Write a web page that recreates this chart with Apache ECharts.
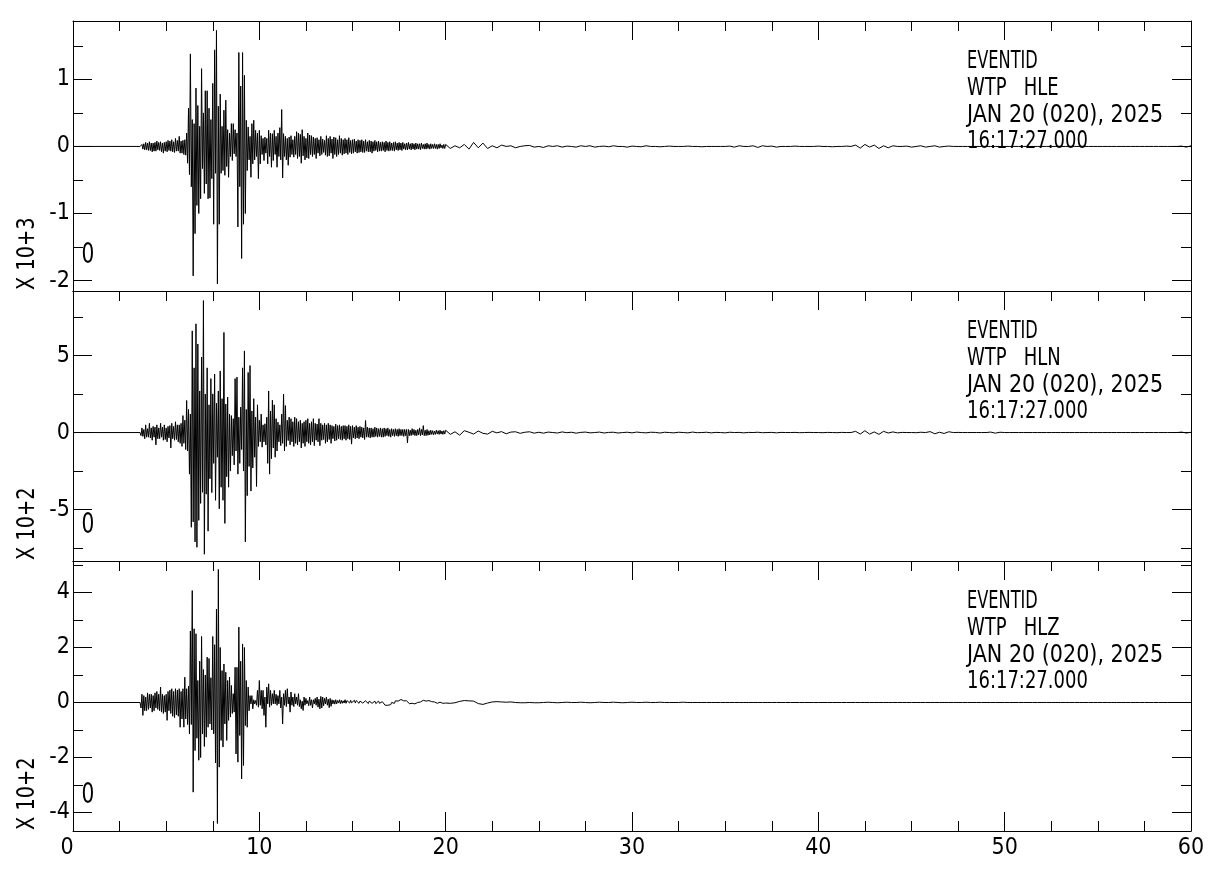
<!DOCTYPE html>
<html><head><meta charset="utf-8">
<script src="https://cdn.jsdelivr.net/npm/echarts@6/dist/echarts.min.js"></script>
<style>html,body{margin:0;padding:0;background:#fff}#c{width:1218px;height:883px}</style>
</head><body><div id="c"></div>
<script>
// ---------- data ----------
const TIME_MIN = 0, TIME_MAX = 60, TIME_STEP = 10;
const EVENT_NAME = 'EVENTID';
const STATION = 'WTP';
const CHANNELS = ['HLE', 'HLN', 'HLZ'];
const DATE_TEXT = 'JAN 20 (020), 2025';
const TIME_TEXT = '16:17:27.000';
const SCALE_TEXT = ['X 10+3', 'X 10+2', 'X 10+2'];
const ORIGIN_TEXT = '0';
const Y_RANGES = [[-2.155, 1.87], [-8.34, 9.19], [-4.673, 5.145]];
const Y_STEPS = [1, 5, 2];

// sample blocks: dense block from DENSE_START every DT_DENSE s (to 19.95 s),
// tail block from TAIL_START every DT_TAIL s (to 60 s)
const DENSE_START = 3.6, DT_DENSE = 0.05;
const TAIL_START = 20, DT_TAIL = 0.25;

const hleDense = [
  0, -0.02, 0.03, -0.04, 0.04, -0.05, 0.06, -0.05, 0.05, -0.06,
  0.07, -0.06, 0.05, -0.08, 0.05, -0.07, 0.06, -0.07, 0.08, -0.05,
  0.06, -0.06, 0.07, -0.08, 0.05, -0.1, 0.06, -0.07, 0.07, -0.08,
  0.09, -0.06, 0.08, -0.07, 0.1, -0.08, 0.07, -0.09, 0.12, -0.07,
  0.09, -0.07, 0.15, -0.1, 0.08, -0.1, 0.09, -0.12, 0.1, -0.13,
  0.2, -0.25, 0.57, -0.42, 1.38, -0.6, 0.4, -1.93, 0.34, -1.3,
  0.87, -0.88, 0.61, -1.0, 0.3, -0.78, 1.16, -0.33, 0.5, -0.7,
  0.83, -0.56, 0.83, -0.78, 0.57, -0.77, 0.4, -0.48, 0.94, -1.16,
  1.44, -0.4, 1.73, -2.05, 0.6, -1.16, 0.78, -0.4, 0.3, -0.36,
  0.54, -0.43, 0.69, -0.3, 0.25, -0.46, 0.2, -0.15, 0.34, -0.21,
  0.34, -0.11, 0.25, -0.15, 0.2, -1.2, 1.4, -0.6, 0.9, -1.67,
  1.4, -1.16, 1.06, -1.0, 0.39, -0.36, 0.29, -0.2, 0.15, -0.46,
  0.34, -0.26, 0.39, -0.2, 0.24, -0.15, 0.2, -0.48, 0.24, -0.26,
  0.16, -0.12, 0.12, -0.21, 0.14, -0.1, 0.12, -0.26, 0.24, -0.15,
  0.2, -0.31, 0.19, -0.21, 0.24, -0.12, 0.15, -0.31, 0.2, -0.15,
  0.28, -0.2, 0.55, -0.47, 0.19, -0.15, 0.15, -0.2, 0.12, -0.28,
  0.14, -0.16, 0.16, -0.12, 0.1, -0.16, 0.15, -0.12, 0.22, -0.18,
  0.2, -0.15, 0.18, -0.25, 0.25, -0.14, 0.15, -0.2, 0.12, -0.17,
  0.2, -0.18, 0.17, -0.12, 0.16, -0.15, 0.14, -0.12, 0.12, -0.18,
  0.13, -0.1, 0.1, -0.14, 0.15, -0.12, 0.11, -0.09, 0.09, -0.13,
  0.16, -0.15, 0.12, -0.14, 0.15, -0.1, 0.11, -0.18, 0.14, -0.12,
  0.13, -0.15, 0.1, -0.12, 0.16, -0.1, 0.12, -0.13, 0.1, -0.11,
  0.12, -0.1, 0.1, -0.12, 0.13, -0.09, 0.09, -0.11, 0.1, -0.1,
  0.11, -0.08, 0.08, -0.1, 0.1, -0.09, 0.09, -0.08, 0.1, -0.09,
  0.08, -0.09, 0.1, -0.07, 0.07, -0.08, 0.09, -0.08, 0.08, -0.1,
  0.07, -0.07, 0.09, -0.06, 0.07, -0.08, 0.08, -0.07, 0.06, -0.07,
  0.07, -0.06, 0.06, -0.08, 0.08, -0.06, 0.06, -0.07, 0.07, -0.06,
  0.05, -0.06, 0.06, -0.07, 0.07, -0.05, 0.05, -0.06, 0.06, -0.05,
  0.05, -0.06, 0.06, -0.04, 0.04, -0.05, 0.05, -0.05, 0.06, -0.04,
  0.04, -0.05, 0.05, -0.04, 0.04, -0.05, 0.05, -0.04, 0.04, -0.04,
  0.04, -0.05, 0.05, -0.03, 0.03, -0.04, 0.04, -0.04, 0.05, -0.03,
  0.03, -0.04, 0.04, -0.03, 0.03, -0.03, 0.04, -0.03, 0.03, -0.04,
  0.03, -0.03, 0.04, -0.02, 0.02, -0.03, 0.03, -0.03
];
const hleTail = [
  0.03, -0.03, 0.01, -0.02, 0.03, -0.04, 0.06, -0.02, 0.05, -0.03,
  0.01, -0.02, 0.02, 0, 0.01, -0.02, 0, 0.01, 0.015, -0.01,
  0, -0.015, 0.01, 0, 0.01, -0.01, 0.005, 0, -0.01, 0.01,
  0, 0.01, -0.01, 0, 0.005, -0.005, 0.01, 0, 0, -0.01,
  0.005, 0, -0.005, 0.01, 0, 0, -0.005, 0, 0.005, 0,
  0, 0, 0.005, 0, 0, -0.005, 0, 0, 0, 0,
  0, 0.005, -0.01, 0.01, 0, 0, 0.01, -0.015, 0.01, 0,
  0.005, -0.01, 0, 0, 0, 0.005, 0, 0, 0, 0,
  0.005, 0, 0, -0.005, 0, 0, 0.005, 0, 0.02, -0.025,
  0.03, -0.01, 0.02, -0.03, 0.01, -0.02, 0.01, 0, 0, 0.005,
  -0.01, 0, 0.01, -0.01, 0, 0.01, -0.01, 0, 0.005, 0,
  0, 0, 0, 0, 0, 0, 0, 0, 0, 0,
  0, 0, 0, 0, 0, 0, 0, 0, 0, 0,
  0, 0, 0, 0, 0, 0, 0, 0, 0, 0,
  0, 0, 0, 0, 0, 0, 0, 0, 0, 0,
  0, 0, 0, 0, 0, 0, 0, 0, 0.005, -0.01,
  0.01
];

const hlnDense = [
  0, -0.2, 0.3, -0.25, 0.2, -0.4, 0.5, -0.3, 0.25, -0.3,
  0.6, -0.35, 0.3, -0.5, 0.4, -0.3, 0.35, -0.8, 0.5, -0.4,
  0.3, -0.4, 0.6, -0.3, 0.35, -0.5, 0.5, -0.45, 0.3, -0.6,
  0.4, -0.35, 0.45, -1.0, 0.6, -0.4, 0.4, -0.5, 0.7, -0.45,
  0.5, -0.6, 0.5, -0.7, 0.6, -0.9, 1.1, -0.7, 0.8, -1.1,
  2.08, -1.2, 1.5, -2.7, 1.2, -6.15, 6.6, -5.8, 4.2, -7.1,
  7.06, -7.45, 5.75, -5.7, 2.7, -4.6, 4.9, -3.88, 8.57, -7.9,
  2.5, -4.0, 4.2, -6.4, 1.8, -3.0, 3.5, -3.9, 2.51, -2.0,
  3.8, -4.4, 1.9, -1.6, 2.7, -4.95, 4.0, -3.55, 2.2, -4.4,
  6.5, -5.9, 1.85, -2.87, 2.3, -3.55, 1.2, -2.5, 1.1, -1.5,
  0.9, -2.1, 3.5, -1.2, 3.6, -2.7, 1.0, -2.0, 1.65, -1.1,
  4.2, -2.5, 5.3, -7.1, 1.5, -4.1, 3.9, -2.2, 4.35, -3.8,
  1.4, -2.3, 2.2, -1.6, 1.0, -3.5, 1.8, -0.9, 0.8, -0.6,
  1.2, -0.95, 0.5, -0.6, 0.57, -0.8, 1.0, -2.0, 2.7, -2.7,
  1.4, -1.7, 2.1, -1.0, 1.8, -1.6, 0.9, -1.2, 0.67, -0.6,
  0.5, -0.85, 1.2, -0.7, 2.5, -1.2, 1.75, -0.9, 0.8, -0.52,
  1.0, -0.8, 0.9, -0.6, 0.7, -0.9, 1.0, -0.7, 0.9, -0.8,
  0.7, -0.6, 0.8, -1.0, 0.6, -0.7, 0.7, -0.9, 0.8, -0.6,
  0.9, -0.7, 0.6, -0.8, 0.7, -0.6, 0.9, -0.85, 0.6, -0.5,
  0.55, -0.6, 0.9, -0.85, 0.6, -0.5, 0.5, -0.45, 0.6, -0.7,
  0.5, -0.6, 0.6, -0.45, 0.5, -0.7, 0.45, -0.4, 0.4, -0.55,
  0.55, -0.5, 0.45, -0.4, 0.5, -0.45, 0.4, -0.5, 0.45, -0.4,
  0.45, -0.5, 0.4, -0.4, 0.5, -0.45, 0.4, -0.75, 0.45, -0.35,
  0.35, -0.4, 0.45, -0.35, 0.35, -0.4, 0.4, -0.3, 0.35, -0.35,
  0.3, -0.45, 0.78, -0.3, 0.35, -0.3, 0.3, -0.35, 0.3, -0.3,
  0.25, -0.3, 0.35, -0.25, 0.3, -0.3, 0.25, -0.25, 0.3, -0.3,
  0.25, -0.3, 0.3, -0.25, 0.25, -0.2, 0.3, -0.25, 0.2, -0.3,
  0.25, -0.2, 0.2, -0.25, 0.25, -0.2, 0.2, -0.25, 0.25, -0.2,
  0.2, -0.2, 0.2, -0.25, 0.2, -0.2, 0.2, -0.67, 0.2, -0.2,
  0.15, -0.2, 0.25, -0.15, 0.2, -0.2, 0.15, -0.2, 0.2, -0.15,
  0.3, -0.2, 0.2, -0.15, 0.45, -0.2, 0.15, -0.2, 0.2, -0.18,
  0.12, -0.15, 0.15, -0.12, 0.12, -0.15, 0.1, -0.12, 0.15, -0.1,
  0.12, -0.12, 0.15, -0.1, 0.1, -0.12, 0.12, -0.1
];
const hlnTail = [
  0.15, -0.12, 0.05, -0.17, 0.12, 0.02, -0.1, 0.1, -0.05, -0.1,
  0.08, -0.02, 0.06, -0.08, 0.03, 0.05, -0.05, 0.02, 0.05, -0.04,
  0.02, -0.04, 0.03, 0, -0.03, 0.04, -0.01, 0.02, -0.04, 0.01,
  0.03, -0.02, 0, 0.03, -0.03, 0.01, 0.02, -0.03, 0, 0.02,
  -0.02, 0.03, 0, -0.02, 0.02, 0.01, -0.03, 0.02, 0, -0.02,
  0.02, 0, -0.02, 0.03, -0.01, 0, 0.02, -0.02, 0.01, 0,
  -0.02, 0.02, 0, 0.01, -0.02, 0.01, 0, 0.02, -0.01, 0,
  0.01, -0.02, 0.01, 0, 0, 0.01, -0.01, 0, 0.01, 0,
  0, -0.01, 0.01, 0, -0.01, 0.01, 0, 0, 0.08, -0.1,
  0.12, -0.1, 0.04, -0.12, 0.08, -0.03, 0.04, -0.02, 0.01, 0,
  0, -0.01, 0.02, 0, 0.06, -0.08, 0.02, -0.06, 0.05, 0,
  0.01, 0, 0, 0, 0, 0, 0, 0.03, -0.04, 0.02,
  0, 0, 0, 0, 0, 0, 0, 0, 0, 0,
  0, 0, 0, 0, 0, 0, 0, 0, 0, 0,
  0, 0, 0, 0, 0, 0, 0, 0, 0, 0,
  0, 0, 0, 0, 0, 0, 0, 0, 0.03, -0.03,
  0.02
];

const hlzDense = [
  0, -0.2, 0.3, -0.47, 0.25, -0.3, 0.2, -0.3, 0.35, -0.25,
  0.3, -0.2, 0.3, -0.35, 0.25, -0.3, 0.35, -0.2, 0.4, -0.25,
  0.3, -0.3, 0.56, -0.35, 0.3, -0.4, 0.25, -0.35, 0.3, -0.65,
  0.4, -0.3, 0.45, -0.4, 0.5, -0.5, 0.4, -0.55, 0.5, -0.45,
  0.45, -0.5, 0.5, -0.9, 0.4, -0.6, 0.5, -0.9, 0.92, -0.6,
  0.5, -0.8, 0.6, -1.14, 2.6, -0.8, 4.07, -3.26, 2.68, -1.75,
  2.5, -1.3, 0.8, -2.1, 1.5, -2.0, 2.4, -1.14, 1.2, -1.6,
  1.0, -1.26, 1.65, -0.9, 1.6, -0.78, 0.9, -1.0, 2.4, -1.14,
  2.1, -2.2, 3.4, -4.4, 4.84, -2.35, 2.0, -1.38, 1.16, -1.62,
  1.4, -0.78, 1.1, -1.38, 0.8, -0.65, 0.92, -0.53, 0.62, -0.4,
  0.32, -0.35, 1.28, -1.87, 1.28, -2.17, 2.74, -1.2, 1.5, -2.78,
  2.13, -2.29, 2.0, -0.84, 0.8, -0.9, 0.56, -0.3, 0.25, -0.05,
  0.25, -0.23, 0.1, -0.05, 0.07, -0.1, 0.44, -0.17, 0.8, -0.1,
  0.44, -0.23, 0.44, -0.47, 0.2, -0.9, 0.56, -0.05, 0.68, -0.17,
  0.44, -0.1, 0.32, -0.05, 0.44, -0.05, 0.3, -0.1, 0.25, -0.05,
  0.44, -0.2, 0.2, -0.78, 0.32, -0.1, 0.44, -0.15, 0.5, -0.05,
  0.2, -0.35, 0.38, -0.1, 0.2, -0.15, 0.32, -0.05, 0.2, -0.1,
  0.32, -0.15, 0.1, -0.23, 0.05, -0.29, 0.2, -0.1, 0.15, -0.05,
  0.07, -0.12, 0.2, -0.1, 0.1, -0.2, 0.1, -0.05, 0.15, -0.1,
  0.2, -0.17, 0.12, -0.23, 0.22, -0.2, 0.2, -0.12, 0.15, -0.05,
  0.2, -0.1, 0.12, -0.19, 0.15, -0.14, 0.1, -0.05, 0.08, -0.06,
  0.1, -0.05, 0.07, -0.02, 0.1, -0.04, 0.08, -0.03, 0.06, -0.02,
  0.1, -0.03, 0.07, 0, 0.09, -0.02, 0.08, -0.01, 0.06, 0,
  0.08, -0.02, 0.07, 0, 0.06, -0.03, 0.05, 0, 0.07, -0.02,
  0.05, -0.03, 0.06, -0.01, 0.04, -0.04, 0.05, -0.02, 0.06, -0.03,
  0.04, -0.02, 0.05, -0.04, 0.03, -0.02, 0.05, -0.03, 0.04, -0.01,
  0.03, -0.04, 0, -0.1, -0.08, -0.15, -0.1, -0.14, -0.05, -0.08,
  0, -0.04, 0.02, -0.03, 0.06, 0.02, 0.09, 0.05, 0.1, 0.06,
  0.11, 0.07, 0.1, 0.06, 0.09, 0.05, 0.06, 0.02, 0.02, -0.04,
  -0.02, -0.06, -0.03, -0.06, -0.02, -0.05, -0.03, -0.06, 0, -0.03,
  0.05, 0.02, 0.07, 0.04, 0.08, 0.05, 0.07, 0.05, 0.08, 0.04,
  0.07, 0.05, 0.06, 0.03, 0.04, 0, 0.02, -0.02, 0, -0.03,
  0, -0.03, 0.01, -0.02, -0.01, -0.03, 0, -0.03
];
const hlzTail = [
  -0.02, -0.03, -0.01, 0.04, 0.07, 0.06, 0.05, -0.04, -0.07, -0.02,
  0.02, 0.03, 0.02, 0.01, 0.02, 0, -0.01, -0.01, 0, -0.01,
  -0.01, 0, 0.01, 0, -0.01, 0, 0.01, 0, 0, 0.01,
  0, -0.01, 0, 0.01, 0, 0, 0.01, 0, -0.01, 0,
  0.01, 0, 0, 0.01, 0, 0, 0.01, 0, 0, 0,
  0, 0.01, 0, 0, 0, 0, 0, 0, 0, 0,
  0, 0, 0, 0, 0, 0, 0, 0, 0, 0,
  0, 0, 0, 0, 0, 0, 0, 0, 0, 0,
  0, 0, 0, 0, 0, 0, 0, 0, 0, 0,
  0, 0, 0, 0, 0, 0, 0, 0, 0, 0,
  0, 0, 0, 0, 0, 0, 0, 0, 0, 0,
  0, 0, 0, 0, 0, 0, 0, 0, 0, 0,
  0, 0, 0, 0, 0, 0, 0, 0, 0, 0,
  0, 0, 0, 0, 0, 0, 0, 0, 0, 0,
  0, 0, 0, 0, 0, 0, 0, 0, 0, 0,
  0, 0, 0, 0, 0, 0, 0, 0, 0, 0,
  0
];

// ---------- build ----------
function block(vals, t0, dt, out) {
  vals.forEach((v, i) => out.push([+(t0 + i * dt).toFixed(3), v]));
}
function trace(dense, tail) {
  const pts = [[TIME_MIN, 0]];
  block(dense, DENSE_START, DT_DENSE, pts);
  block(tail, TAIL_START, DT_TAIL, pts);
  return pts;
}
const TRACES = [
  trace(hleDense, hleTail),
  trace(hlnDense, hlnTail),
  trace(hlzDense, hlzTail)
];

const FONT = "'DejaVu Sans Condensed','DejaVu Sans',sans-serif";
const INK = '#000';
const LEFT = 73, WIDTH = 1118;
const TOPS = [21, 291, 561], H = 270;
const line = { color: INK, width: 1 };

const grids = [], xAxes = [], yAxes = [], series = [], graphics = [];
TOPS.forEach((top, i) => {
  grids.push({ left: LEFT, top: top, width: WIDTH, height: H, containLabel: false });
  const last = i === TOPS.length - 1;
  const xs = Math.round((TIME_MAX - TIME_MIN) / TIME_STEP);
  xAxes.push({
    type: 'value', gridIndex: i, position: 'bottom', min: TIME_MIN, max: TIME_MAX, splitNumber: xs,
    axisLine: { show: true, onZero: false, lineStyle: line },
    axisTick: { show: last, inside: true, length: 19, lineStyle: line },
    minorTick: { show: last, splitNumber: 4, length: 10, lineStyle: line },
    axisLabel: {
      show: last, margin: 6, color: INK, fontFamily: FONT, fontSize: 23,
      formatter: v => (v === TIME_MIN ? '{first|' + v + '}' : String(v)),
      rich: { first: { padding: [0, 12, 0, 0], fontFamily: FONT, fontSize: 23, color: INK } }
    },
    splitLine: { show: false }
  });
  xAxes.push({
    type: 'value', gridIndex: i, position: 'top', min: TIME_MIN, max: TIME_MAX, splitNumber: xs,
    axisLine: { show: true, onZero: false, lineStyle: line },
    axisTick: { show: true, inside: true, length: 19, lineStyle: line },
    minorTick: { show: true, splitNumber: 4, length: 10, lineStyle: line },
    axisLabel: { show: false }, splitLine: { show: false }
  });
  const [ymin, ymax] = Y_RANGES[i];
  const step = Y_STEPS[i];
  const ys = Math.round((ymax - ymin) / step);
  const fmt = v => {
    const k = v / step;
    return Math.abs(k - Math.round(k)) < 1e-6 ? String(Math.round(k) * step) : '';
  };
  yAxes.push({
    type: 'value', gridIndex: i, position: 'left', min: ymin, max: ymax, splitNumber: ys,
    axisLine: { show: true, onZero: false, lineStyle: line },
    axisTick: { show: true, inside: true, length: 19, lineStyle: line },
    minorTick: { show: true, splitNumber: 2, length: 10, lineStyle: line },
    axisLabel: { show: true, margin: 3, color: INK, fontFamily: FONT, fontSize: 23, formatter: fmt },
    splitLine: { show: false }
  });
  yAxes.push({
    type: 'value', gridIndex: i, position: 'right', min: ymin, max: ymax, splitNumber: ys,
    axisLine: { show: true, onZero: false, lineStyle: line },
    axisTick: { show: true, inside: true, length: 19, lineStyle: line },
    minorTick: { show: true, splitNumber: 2, length: 10, lineStyle: line },
    axisLabel: { show: false }, splitLine: { show: false }
  });
  series.push({
    type: 'line', xAxisIndex: 2 * i, yAxisIndex: 2 * i, data: TRACES[i],
    showSymbol: false, symbol: 'none', silent: true, animation: false,
    lineStyle: { color: INK, width: 1 }, z: 2
  });
  const lines = [EVENT_NAME, STATION + '   ' + CHANNELS[i], DATE_TEXT, TIME_TEXT];
  const offs = [40, 67, 94, 120];
  const squeeze = [0.72, 0.8, 0.92, 0.8];
  lines.forEach((t, k) => graphics.push({
    type: 'text', x: 967, y: top + offs[k], z: 10, scaleX: squeeze[k],
    style: { text: t, fill: INK, font: '25px ' + FONT, textAlign: 'left', textVerticalAlign: 'middle' }
  }));
  graphics.push({
    type: 'text', x: 27, y: top + H - 1, rotation: Math.PI / 2, scaleX: 0.86, z: 10,
    style: { text: SCALE_TEXT[i], fill: INK, font: '25px ' + FONT, textAlign: 'left', textVerticalAlign: 'middle' }
  });
  graphics.push({
    type: 'text', x: 88, y: top + H - 35, z: 10, scaleX: 0.8,
    style: { text: ORIGIN_TEXT, fill: INK, font: '28px ' + FONT, textAlign: 'center', textVerticalAlign: 'middle' }
  });
});

const chart = echarts.init(document.getElementById('c'), null, { renderer: 'canvas' });
chart.setOption({
  animation: false,
  backgroundColor: '#fff',
  grid: grids, xAxis: xAxes, yAxis: yAxes, series: series, graphic: graphics
});
</script>
</body></html>
